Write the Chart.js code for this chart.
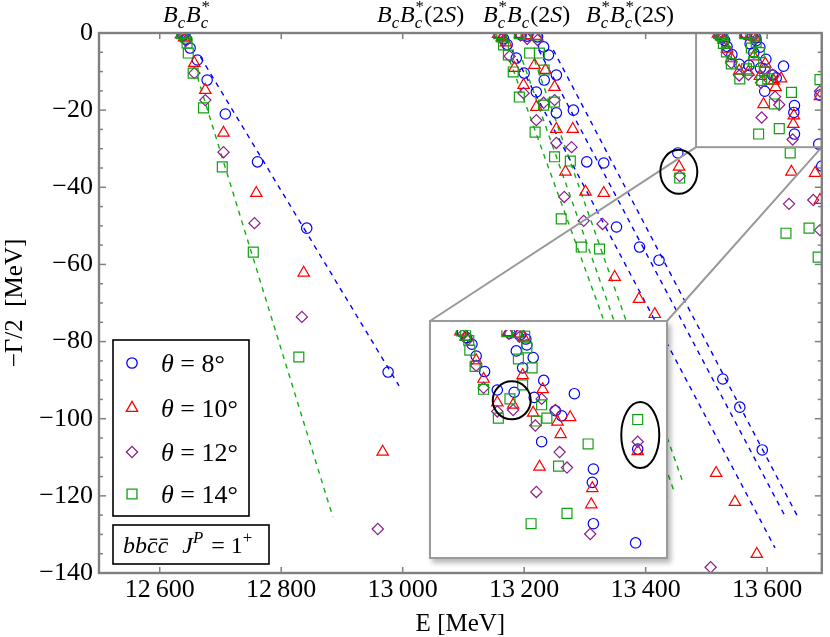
<!DOCTYPE html>
<html>
<head>
<meta charset="utf-8">
<script src="https://cdn.jsdelivr.net/npm/chart.js@4.4.1/dist/chart.umd.min.js"></script>
<style>
  html, body { margin: 0; padding: 0; background: #fff; }
  #wrap { position: relative; width: 830px; height: 637px; }
  #main { position: absolute; left: 0; top: 0; }
  #insetBox { position: absolute; left: 429px; top: 320px; width: 235px; height: 235px;
    border: 2px solid #9a9a9a; background: #fff; box-shadow: 3px 4px 5px rgba(0,0,0,0.28); }
</style>
</head>
<body>
<div id="wrap">
  <canvas id="main" width="830" height="637"></canvas>
  <div id="insetBox"><canvas id="inset" width="235" height="235"></canvas></div>
</div>
<script>
// pole positions (E [MeV], -Gamma/2 [MeV])
const theta8 = [
  [12640,-0.5],[12644,-1.6],[12650,-3.9],[12662,-7.0],[12678,-12.2],[12708,-21.0],[12761,-33.4],[12842,-50.6],[12976,-87.9],
  [13160,-0.5],[13166,-1.5],[13172,-3.0],[13187,-6.5],[13200,-10.4],[13220,-15.3],
  [13195,-0.5],[13205,-0.8],[13222,-1.0],[13232,-3.6],[13240,-5.7],[13233,-12.2],[13253,-10.9],[13253,-20.7],[13281,-20.0],
  [13303,-33.4],[13331,-33.7],[13352,-50.3],[13390,-55.5],[13422,-58.9],[13453,-31.1],[13527,-89.7],[13555,-97.0],[13592,-108.1],
  [13690,-34.5],
  [13521,-0.3],[13525,-1.0],[13530,-1.9],[13534,-3.5],[13542,-5.6],[13554,-8.1],[13570,-8.4],[13566,-0.4],[13576,-0.6],
  [13581,-1.2],[13572,-2.8],[13578,-5.1],[13588,-3.7],[13582,-2.0],[13598,-6.8],[13589,-9.1],[13627,-8.6],[13609,-10.9],
  [13615,-11.6],[13596,-15.1],[13645,-18.8],[13644,-20.6],[13645,-26.2],[13685,-28.8],[13687,-16.1]
];
const theta10 = [
  [12635,-0.4],[12640,-1.2],[12657,-7.8],[12675,-14.8],[12705,-25.9],[12759,-41.5],[12837,-62.2],[12967,-108.6],
  [13157,-0.3],[13163,-1.2],[13170,-2.5],[13184,-9.1],[13199,-13.5],[13220,-19.2],[13253,-24.9],[13268,-36.0],
  [13193,-0.3],[13203,-0.6],[13220,-0.8],[13217,-8.3],[13235,-9.6],[13250,-14.0],[13280,-24.9],[13301,-41.2],[13331,-41.5],
  [13349,-63.3],[13389,-69.0],[13415,-72.9],[13455,-34.7],[13516,-114.1],[13547,-121.6],[13583,-135.1],
  [13640,-36.0],[13679,-36.3],[13687,-43.3],
  [13519,-0.2],[13524,-0.9],[13534,-4.1],[13541,-6.6],[13554,-9.8],[13569,-10.1],[13564,-0.3],[13574,-0.5],[13579,-1.0],
  [13578,-6.1],[13588,-11.2],[13597,-8.0],[13623,-11.8],[13611,-12.4],[13614,-14.1],[13594,-18.5],[13644,-21.4],[13643,-23.6],
  [13687,-16.4]
];
const theta12 = [
  [12638,-0.8],[12643,-2.0],[12657,-10.4],[12675,-17.4],[12705,-30.9],[12756,-49.3],[12834,-73.6],[12959,-128.6],
  [13159,-0.7],[13166,-2.0],[13176,-6.0],[13199,-15.6],[13220,-22.6],[13253,-28.5],[13266,-42.5],
  [13194,-0.6],[13205,-1.5],[13222,-1.8],[13232,-18.1],[13250,-17.4],[13278,-29.6],[13298,-48.7],[13329,-49.5],
  [13456,-37.1],[13507,-138.5],
  [13636,-44.3],[13676,-43.3],[13687,-51.1],
  [13522,-0.5],[13526,-1.3],[13534,-4.8],[13541,-7.8],[13554,-11.0],[13569,-10.8],[13565,-0.5],[13575,-0.9],[13590,-12.9],
  [13596,-9.3],[13609,-10.8],[13613,-16.5],[13620,-18.6],[13591,-21.9],[13642,-27.6],[13687,-15.1]
];
const theta14 = [
  [12636,-0.2],[12642,-1.0],[12645,-2.6],[12647,-5.2],[12655,-10.4],[12672,-19.4],[12703,-34.7],[12754,-56.8],[12829,-84.0],
  [13158,-0.2],[13163,-1.0],[13166,-3.1],[13174,-5.7],[13182,-10.1],[13192,-16.6],[13218,-25.7],[13250,-32.1],[13261,-48.2],
  [13192,-0.2],[13203,-0.4],[13220,-0.5],[13209,-5.2],[13225,-5.2],[13233,-9.6],[13232,-18.7],[13250,-17.9],[13276,-33.2],
  [13294,-55.5],[13324,-56.0],[13456,-37.6],
  [13638,-31.1],[13631,-51.9],[13669,-50.6],[13684,-58.1],
  [13520,-0.1],[13524,-0.7],[13527,-1.4],[13528,-2.7],[13533,-4.9],[13541,-8.0],[13555,-11.9],[13566,-9.3],[13578,-7.4],
  [13563,-0.2],[13573,-0.3],[13580,-0.8],[13574,-3.9],[13582,-2.4],[13587,-5.1],[13596,-10.1],[13591,-12.3],[13601,-11.9],
  [13640,-15.4],[13612,-18.4],[13620,-24.8],[13586,-26.2],[13687,-12.1]
];

// dashed trajectory guides (start, end)
const blueFits = [
  [[12667,-6.2],[12994,-91.5]],
  [[13180,-4.4],[13613,-133.5]],
  [[13224,-4.4],[13631,-125.7]],
  [[13248,-4.4],[13649,-125.0]]
];
const greenFits = [
  [[12662,-11.4],[12885,-125.5]],
  [[13176,-7.0],[13438,-121.1]],
  [[13197,-7.0],[13446,-118.5]],
  [[13217,-7.0],[13460,-115.9]]
];

const seriesNames = ['θ', 'θ', 'θ', 'θ'];
const seriesAngles = ['8°', '10°', '12°', '14°'];
const xTickValues = [12600, 12800, 13000, 13200, 13400, 13600];
const xTickLabels = ['12\u2009600', '12\u2009800', '13\u2009000', '13\u2009200', '13\u2009400', '13\u2009600'];
const yTickValues = [0, -20, -40, -60, -80, -100, -120, -140];
const yTickLabels = ['0', '\u221220', '\u221240', '\u221260', '\u221280', '\u2212100', '\u2212120', '\u2212140'];

const zoomBoxE = [13483, 13690];
const zoomBoxG = [-29.6, 0];
const insetRangeE = [13499, 13706];
const circledMain = [13454.6, -36.0];
const circledInset = [[13567.7, -9.5, 19, 19], [13689.4, -14.2, 19, 33]];

const SERIF = '"Liberation Serif", "Times New Roman", serif';
const styles = [
  { color: '#0000ff', pointStyle: 'circle', radius: 5.2 },
  { color: '#ff0000', pointStyle: 'triangle', radius: 6.6 },
  { color: '#8a1f8a', pointStyle: 'rectRot', radius: 5.6 },
  { color: '#12a012', pointStyle: 'rect', radius: 7.0 }
];
const allSeries = [theta8, theta10, theta12, theta14];

function markerSets() {
  return allSeries.map((pts, i) => ({
    label: seriesNames[i] + ' = ' + seriesAngles[i],
    data: pts.map(p => ({ x: p[0], y: p[1] })),
    pointStyle: styles[i].pointStyle,
    pointRadius: styles[i].radius,
    pointHoverRadius: styles[i].radius,
    pointBorderColor: styles[i].color,
    pointBackgroundColor: 'rgba(0,0,0,0)',
    pointBorderWidth: 1.2,
    showLine: false,
    order: 4 - i
  }));
}

function fitSets(fits, color) {
  return fits.map(f => ({
    data: f.map(p => ({ x: p[0], y: p[1] })),
    showLine: true,
    borderColor: color,
    borderWidth: 1.4,
    borderDash: [5, 5],
    pointRadius: 0,
    order: 10
  }));
}

// rich text with italics, sub/superscripts and overbars
function rich(ctx, x, y, parts, size) {
  for (const p of parts) {
    if (p.t !== undefined) {
      ctx.font = (p.it ? 'italic ' : '') + size + 'px ' + SERIF;
      ctx.fillText(p.t, x, y);
      const w = ctx.measureText(p.t).width;
      if (p.bar) ctx.fillRect(x + w * 0.25, y - size * 0.6, w * 0.7, 1.3);
      x += w + (p.gap || 0);
    } else {
      const s = size * 0.7;
      ctx.font = (p.up ? '' : 'italic ') + s + 'px ' + SERIF;
      let w = 0;
      if (p.sup) { ctx.fillText(p.sup, x, y - size * 0.42); w = Math.max(w, ctx.measureText(p.sup).width); }
      if (p.sub) { ctx.fillText(p.sub, x, y + size * 0.24); w = Math.max(w, ctx.measureText(p.sub).width); }
      x += w + (p.gap || 1);
    }
  }
  return x;
}

const topLabels = [
  { x: 163, parts: [{ t: 'B', it: 1 }, { sub: 'c' }, { t: 'B', it: 1 }, { sub: 'c', sup: '*', up: 0 }] },
  { x: 377, parts: [{ t: 'B', it: 1 }, { sub: 'c' }, { t: 'B', it: 1 }, { sub: 'c', sup: '*' }, { t: '(2' }, { t: 'S', it: 1 }, { t: ')' }] },
  { x: 483, parts: [{ t: 'B', it: 1 }, { sub: 'c', sup: '*' }, { t: 'B', it: 1 }, { sub: 'c' }, { t: '(2' }, { t: 'S', it: 1 }, { t: ')' }] },
  { x: 586, parts: [{ t: 'B', it: 1 }, { sub: 'c', sup: '*' }, { t: 'B', it: 1 }, { sub: 'c', sup: '*' }, { t: '(2' }, { t: 'S', it: 1 }, { t: ')' }] }
];

const decor = {
  id: 'decor',
  afterDatasetsDraw(chart) {
    const { ctx, chartArea: a, scales: { x, y } } = chart;
    const seg = (x1, y1, x2, y2) => { ctx.beginPath(); ctx.moveTo(x1, y1); ctx.lineTo(x2, y2); ctx.stroke(); };
    ctx.save();
    // zoom box and connectors
    ctx.strokeStyle = '#999999';
    ctx.lineWidth = 2;
    const bx0 = x.getPixelForValue(zoomBoxE[0]), bx1 = Math.min(x.getPixelForValue(zoomBoxE[1]), a.right);
    const by0 = y.getPixelForValue(zoomBoxG[1]), by1 = y.getPixelForValue(zoomBoxG[0]);
    ctx.strokeRect(bx0, by0, bx1 - bx0, by1 - by0);
    seg(bx0, by1, 430, 321);
    seg(bx1, by1, 667, 321);
    // circled poles
    ctx.strokeStyle = '#000';
    ctx.lineWidth = 2;
    ctx.beginPath();
    ctx.ellipse(x.getPixelForValue(circledMain[0]), y.getPixelForValue(circledMain[1]), 18.5, 22, 0, 0, Math.PI * 2);
    ctx.stroke();
    // frame with inward ticks
    ctx.strokeStyle = '#808080';
    ctx.lineWidth = 1.5;
    for (const v of xTickValues) {
      const px = x.getPixelForValue(v);
      seg(px, a.bottom, px, a.bottom - 6);
      seg(px, a.top, px, a.top + 6);
    }
    for (let v = 0; v >= -140; v -= 5) {
      const len = v % 20 === 0 ? 7 : 4;
      const py = y.getPixelForValue(v);
      seg(a.left, py, a.left + len, py);
      seg(a.right, py, a.right - len, py);
    }
    ctx.lineWidth = 2.4;
    ctx.strokeRect(a.left, a.top, a.right - a.left, a.bottom - a.top);
    ctx.restore();
  },
  afterDraw(chart) {
    const { ctx } = chart;
    ctx.save();
    ctx.fillStyle = '#000';
    ctx.textBaseline = 'alphabetic';
    for (const l of topLabels) rich(ctx, l.x, 22, l.parts, 24);
    // legend
    ctx.fillStyle = '#fff';
    ctx.fillRect(113, 340, 136, 176);
    ctx.strokeStyle = '#000';
    ctx.lineWidth = 1.6;
    ctx.strokeRect(113, 340, 136, 176);
    const rows = [363, 408, 452, 494];
    allSeries.forEach((s, i) => {
      ctx.strokeStyle = styles[i].color;
      ctx.fillStyle = 'rgba(0,0,0,0)';
      ctx.lineWidth = 1.3;
      Chart.helpers.drawPoint(ctx, { pointStyle: styles[i].pointStyle, radius: styles[i].radius, borderWidth: 1.3 }, 132, rows[i]);
      ctx.fillStyle = '#000';
      rich(ctx, 161, rows[i] + 9, [{ t: seriesNames[i], it: 1 }, { t: ' = ' + seriesAngles[i] }], 26);
    });
    // system label
    ctx.fillStyle = '#fff';
    ctx.fillRect(113, 525, 156, 39);
    ctx.strokeStyle = '#000';
    ctx.lineWidth = 1.6;
    ctx.strokeRect(113, 525, 156, 39);
    ctx.fillStyle = '#000';
    rich(ctx, 123, 553, [
      { t: 'bb', it: 1 }, { t: 'c', it: 1, bar: 1 }, { t: 'c', it: 1, bar: 1, gap: 14 },
      { t: 'J', it: 1 }, { sup: 'P', gap: 2 }, { t: ' = 1' }, { sup: '+', up: 1 }
    ], 24);
    ctx.restore();
  }
};

new Chart(document.getElementById('main'), {
  type: 'scatter',
  data: { datasets: markerSets().concat(fitSets(blueFits, '#0000ff'), fitSets(greenFits, '#10b010')) },
  options: {
    responsive: false,
    animation: false,
    events: [],
    layout: { padding: { left: 0, top: 33, right: 8, bottom: 0 } },
    plugins: { legend: { display: false }, tooltip: { enabled: false } },
    scales: {
      x: {
        type: 'linear', min: 12500, max: 13690,
        afterBuildTicks: s => { s.ticks = xTickValues.map(v => ({ value: v })); },
        afterFit: s => { s.height = 64; },
        grid: { display: false, drawTicks: false },
        border: { display: false },
        ticks: {
          padding: 2, color: '#000', font: { family: SERIF, size: 26 },
          callback: v => xTickLabels[xTickValues.indexOf(v)]
        },
        title: { display: true, text: 'E [MeV]', color: '#000', font: { family: SERIF, size: 25, lineHeight: 1 }, padding: 0 }
      },
      y: {
        type: 'linear', min: -140, max: 0,
        afterBuildTicks: s => { s.ticks = yTickValues.map(v => ({ value: v })); },
        afterFit: s => { s.width = 99; },
        grid: { display: false, drawTicks: false },
        border: { display: false },
        ticks: {
          padding: 6, color: '#000', font: { family: SERIF, size: 26 },
          callback: v => yTickLabels[yTickValues.indexOf(v)]
        },
        title: { display: true, text: '\u2212\u0393/2  [MeV]', color: '#000', font: { family: SERIF, size: 25, lineHeight: 1 }, padding: 3 }
      }
    }
  },
  plugins: [decor]
});

const insetMarks = {
  id: 'insetMarks',
  afterDatasetsDraw(chart) {
    const { ctx, scales: { x, y } } = chart;
    ctx.save();
    ctx.strokeStyle = '#000';
    ctx.lineWidth = 2;
    for (const c of circledInset) {
      ctx.beginPath();
      ctx.ellipse(x.getPixelForValue(c[0]), y.getPixelForValue(c[1]), c[2], c[3], 0, 0, Math.PI * 2);
      ctx.stroke();
    }
    ctx.restore();
  }
};

new Chart(document.getElementById('inset'), {
  type: 'scatter',
  data: { datasets: markerSets() },
  options: {
    responsive: false,
    animation: false,
    events: [],
    layout: { padding: 0 },
    plugins: { legend: { display: false }, tooltip: { enabled: false } },
    scales: {
      x: { type: 'linear', display: false, min: insetRangeE[0], max: insetRangeE[1] },
      y: { type: 'linear', display: false, min: zoomBoxG[0], max: zoomBoxG[1] }
    }
  },
  plugins: [insetMarks]
});
</script>
</body>
</html>
